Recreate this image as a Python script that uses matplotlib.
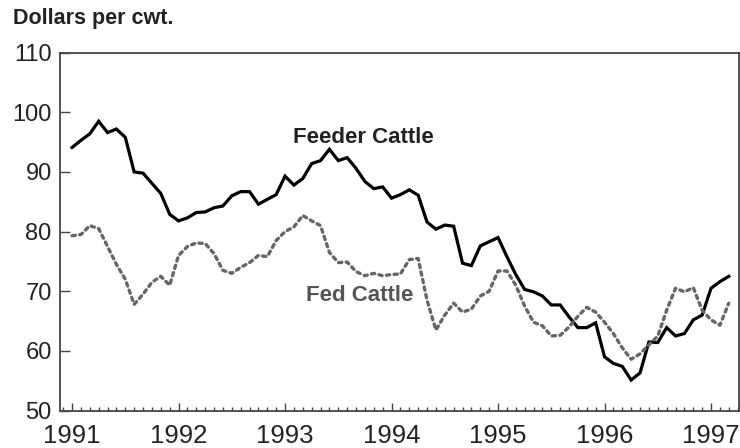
import numpy as np
import matplotlib
matplotlib.use("Agg")
import matplotlib.pyplot as plt
from matplotlib.ticker import MultipleLocator

plt.rcParams['font.family'] = ['Liberation Sans', 'DejaVu Sans']

# monthly prices, Jan 1991 - Mar 1997, dollars per cwt
feeder = [
    94.1, 95.3, 96.4, 98.5, 96.6, 97.2, 95.8, 90.0, 89.8, 88.1, 86.4, 82.9,  # 1991
    81.8, 82.3, 83.2, 83.3, 84.0, 84.3, 86.0, 86.7, 86.7, 84.6, 85.4, 86.2,  # 1992
    89.3, 87.8, 88.9, 91.4, 91.9, 93.8, 91.9, 92.4, 90.6, 88.4, 87.2, 87.5,  # 1993
    85.6, 86.2, 87.0, 86.1, 81.6, 80.4, 81.1, 80.9, 74.7, 74.3, 77.6, 78.3,  # 1994
    79.0, 75.8, 72.8, 70.3, 69.9, 69.2, 67.7, 67.7, 65.7, 63.9, 63.9, 64.7,  # 1995
    59.0, 57.9, 57.4, 55.1, 56.3, 61.5, 61.4, 63.9, 62.5, 62.9, 65.2, 66.0,  # 1996
    70.5, 71.6, 72.5,                                                        # 1997
]
fed = [
    79.3, 79.5, 81.0, 80.5, 77.5, 74.5, 72.0, 67.8, 69.5, 71.5, 72.5, 71.0,  # 1991
    76.0, 77.5, 78.1, 78.0, 76.3, 73.5, 73.0, 74.0, 74.8, 76.0, 75.8, 78.5,  # 1992
    80.0, 80.8, 82.7, 81.8, 81.0, 76.5, 74.8, 74.9, 73.3, 72.6, 73.0, 72.6,  # 1993
    72.8, 72.9, 75.3, 75.5, 68.5, 63.5, 66.0, 68.0, 66.5, 67.0, 69.2, 70.0,  # 1994
    73.4, 73.4, 71.0, 67.5, 64.8, 64.2, 62.5, 62.6, 64.0, 65.8, 67.3, 66.5,  # 1995
    64.8, 62.9, 60.5, 58.6, 59.5, 61.0, 62.5, 66.8, 70.5, 69.9, 70.6, 66.8,  # 1996
    65.2, 64.3, 68.0,                                                        # 1997
]
years = [1991, 1992, 1993, 1994, 1995, 1996, 1997]
yticks = [50, 60, 70, 80, 90, 100, 110]

t = 1991 + np.arange(len(feeder)) / 12.0

fig = plt.figure(figsize=(7.4, 4.48), dpi=100)
ax = fig.add_axes([0.0811, 0.0837, 0.9176, 0.7987])

ax.plot(t, feeder, color='black', lw=2.3, solid_joinstyle='miter')
ax.plot(t, fed, color='#666666', lw=2.4, linestyle=(0, (1, 1.3)),
        dash_capstyle='round')

ax.set_xlim(1990.887, 1997.263)
ax.set_ylim(50, 110)

ax.set_xticks(years)
ax.set_xticklabels([str(y) for y in years],
                   family=['Liberation Sans Narrow', 'Liberation Sans'],
                   fontsize=18.5, color='#222222')
ax.xaxis.set_minor_locator(MultipleLocator(1 / 12))
ax.set_yticks(yticks)
ax.set_yticklabels([str(v) for v in yticks], fontsize=17, color='#222222')

ax.tick_params(axis='x', which='major', direction='in', length=6, width=1,
               color='#444444', pad=10, top=False)
ax.tick_params(axis='x', which='minor', direction='in', length=3, width=1,
               color='#444444', top=False)
ax.tick_params(axis='y', which='major', direction='in', length=7, width=1,
               color='#444444', pad=6, right=False)

for s in ax.spines.values():
    s.set_color('#444444')
    s.set_linewidth(1.3)

ax.text(1993.732, 94.85, 'Feeder Cattle', ha='center', va='baseline',
        fontsize=16, fontweight='bold', color='#222222')
ax.text(1993.704, 68.3, 'Fed Cattle', ha='center', va='baseline',
        fontsize=16, fontweight='bold', color='#555555')

fig.text(0.0172, 0.9464, 'Dollars per cwt.', ha='left', va='baseline',
         fontsize=15.5, fontweight='bold', color='#222222')

fig.savefig('out.png', dpi=100)
